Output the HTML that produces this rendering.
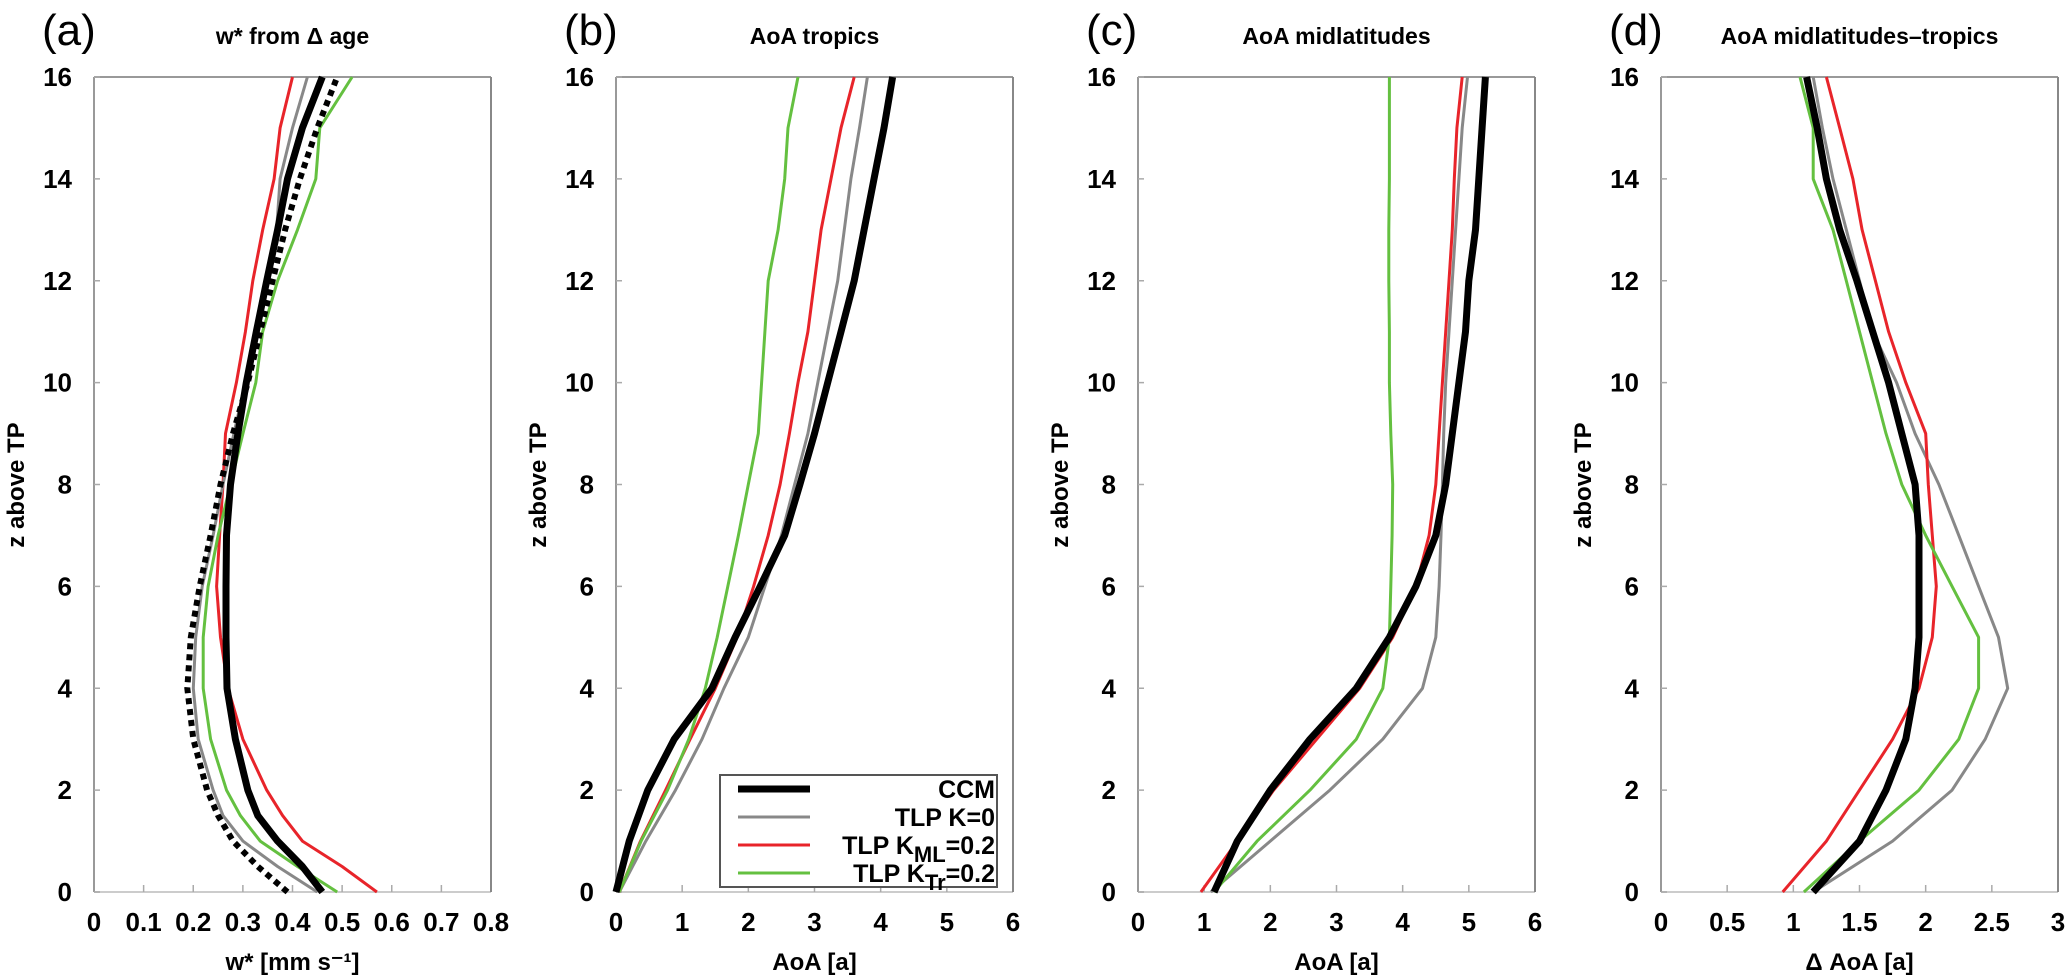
<!DOCTYPE html>
<html><head><meta charset="utf-8"><style>
html,body{margin:0;padding:0;background:#fff}
svg{display:block}
text{font-family:"Liberation Sans",sans-serif}
</style></head><body>
<svg id="fig" width="2067" height="979" viewBox="0 0 2067 979" xmlns="http://www.w3.org/2000/svg"></svg>
<script>
const zLevels=[0,1,2,3,4,5,6,7,8,9,10,11,12,13,14,15,16];
// panel a: w*
const aZ=[0,0.5,1,1.5,2,3,4,5,6,7,8,9,10,11,12,13,14,15,16];
const aCCM=[0.46,0.42,0.37,0.33,0.31,0.285,0.268,0.266,0.266,0.267,0.275,0.29,0.307,0.327,0.348,0.37,0.39,0.42,0.46];
const aDashed=[0.39,0.33,0.28,0.25,0.228,0.2,0.188,0.195,0.213,0.235,0.255,0.28,0.31,0.335,0.36,0.385,0.415,0.45,0.49];
const aK0=[0.45,0.37,0.30,0.26,0.24,0.21,0.2,0.205,0.218,0.24,0.26,0.282,0.305,0.33,0.35,0.368,0.375,0.4,0.43];
const aKML=[0.57,0.5,0.42,0.38,0.348,0.30,0.27,0.255,0.247,0.253,0.26,0.265,0.287,0.305,0.32,0.34,0.363,0.375,0.40];
const aKTr=[0.49,0.41,0.335,0.295,0.267,0.235,0.22,0.22,0.23,0.25,0.275,0.3,0.326,0.34,0.37,0.41,0.447,0.455,0.52];
// panel b: AoA tropics
const bCCM=[0,0.2,0.48,0.88,1.45,1.8,2.18,2.55,2.78,3.0,3.2,3.4,3.6,3.75,3.9,4.05,4.18];
const bK0=[0.05,0.45,0.9,1.3,1.63,2.0,2.25,2.5,2.7,2.9,3.05,3.2,3.35,3.45,3.55,3.68,3.8];
const bKML=[0.05,0.37,0.75,1.12,1.5,1.83,2.08,2.3,2.48,2.62,2.75,2.9,3.0,3.1,3.25,3.4,3.6];
const bKTr=[0.05,0.38,0.78,1.1,1.35,1.53,1.69,1.85,2.0,2.15,2.2,2.25,2.3,2.45,2.55,2.6,2.75];
// panel c: AoA midlatitudes
const cCCM=[1.15,1.5,2.0,2.6,3.3,3.8,4.2,4.5,4.65,4.75,4.85,4.95,5.0,5.1,5.15,5.2,5.25];
const cK0=[1.1,2.0,2.9,3.7,4.3,4.5,4.55,4.58,4.6,4.62,4.65,4.7,4.75,4.8,4.85,4.9,4.98];
const cKML=[0.95,1.5,2.05,2.7,3.35,3.85,4.2,4.4,4.5,4.55,4.6,4.65,4.7,4.75,4.78,4.82,4.9];
const cKTr=[1.15,1.8,2.6,3.3,3.7,3.8,3.82,3.84,3.85,3.82,3.8,3.8,3.79,3.79,3.8,3.8,3.8];
// panel d: delta AoA
const dCCM=[1.15,1.5,1.7,1.85,1.92,1.95,1.95,1.95,1.92,1.82,1.72,1.6,1.48,1.35,1.25,1.18,1.1];
const dK0=[1.15,1.75,2.2,2.45,2.62,2.55,2.4,2.25,2.1,1.92,1.78,1.6,1.5,1.4,1.3,1.22,1.15];
const dKML=[0.92,1.25,1.5,1.75,1.95,2.05,2.08,2.05,2.02,2.0,1.85,1.72,1.62,1.52,1.45,1.35,1.25];
const dKTr=[1.08,1.5,1.95,2.25,2.4,2.4,2.2,2.0,1.82,1.7,1.6,1.5,1.4,1.3,1.15,1.15,1.05];
const yTicks=[0,2,4,6,8,10,12,14,16];
const aTicks=["0","0.1","0.2","0.3","0.4","0.5","0.6","0.7","0.8"];
const bTicks=["0","1","2","3","4","5","6"];
const dTicks=["0","0.5","1","1.5","2","2.5","3"];

const NS="http://www.w3.org/2000/svg";
const svg=document.getElementById('fig');
function mk(tag,attrs,parent){const e=document.createElementNS(NS,tag);for(const k in attrs)e.setAttribute(k,attrs[k]);(parent||svg).appendChild(e);return e;}
const TOP=77,BOT=892,W=397;
const panels=[
 {id:'a',x0:94,xmax:0.8,ticks:aTicks,title:'w* from \u0394 age',xlabel:'w* [mm s\u207B\u00B9]',z:aZ,series:[[aKML,'#e8242a',3,null],[aK0,'#888',3,null],[aKTr,'#64c040',3,null],[aDashed,'#000',6,'6 5'],[aCCM,'#000',7,null]]},
 {id:'b',x0:616,xmax:6,ticks:bTicks,title:'AoA  tropics',xlabel:'AoA [a]',z:zLevels,series:[[bK0,'#888',3,null],[bKML,'#e8242a',3,null],[bKTr,'#64c040',3,null],[bCCM,'#000',7,null]]},
 {id:'c',x0:1138,xmax:6,ticks:bTicks,title:'AoA  midlatitudes',xlabel:'AoA [a]',z:zLevels,series:[[cK0,'#888',3,null],[cKML,'#e8242a',3,null],[cKTr,'#64c040',3,null],[cCCM,'#000',7,null]]},
 {id:'d',x0:1661,xmax:3,ticks:dTicks,title:'AoA  midlatitudes\u2013tropics',xlabel:'\u0394 AoA [a]',z:zLevels,series:[[dK0,'#888',3,null],[dKML,'#e8242a',3,null],[dKTr,'#64c040',3,null],[dCCM,'#000',7,null]]}
];
const seriesNames=['series-a','series-b','series-c','series-d','series-e'];
panels.forEach(p=>{
  const g=mk('g',{});
  
  
  const xs=v=>p.x0+v/p.xmax*W;
  const ys=z=>BOT-z/16*(BOT-TOP);
  // axes
  const top=mk('line',{x1:p.x0,y1:TOP,x2:p.x0+W,y2:TOP,stroke:'#999','stroke-width':2},g);
  
  const bot=mk('line',{x1:p.x0,y1:BOT,x2:p.x0+W,y2:BOT,stroke:'#ccc','stroke-width':2},g);
  
  const l=mk('line',{x1:p.x0,y1:TOP,x2:p.x0,y2:BOT,stroke:'#999','stroke-width':2},g);
  
  const r=mk('line',{x1:p.x0+W,y1:TOP,x2:p.x0+W,y2:BOT,stroke:'#888','stroke-width':2},g);
  
  // y ticks
  yTicks.forEach(t=>{
    mk('line',{x1:p.x0,y1:ys(t),x2:p.x0+6,y2:ys(t),stroke:'#aaa','stroke-width':1.5},g);
    const tx=mk('text',{x:p.x0-22,y:ys(t)+9,'text-anchor':'end','font-size':26,'font-weight':'bold'},g);
    tx.textContent=t;
    
  });
  // x ticks
  p.ticks.forEach((t,i)=>{
    const v=i*p.xmax/(p.ticks.length-1);
    if(i>0&&i<p.ticks.length-1) mk('line',{x1:xs(v),y1:BOT,x2:xs(v),y2:BOT-7,stroke:'#aaa','stroke-width':1.5},g);
    const tx=mk('text',{x:xs(v),y:931,'text-anchor':'middle','font-size':26,'font-weight':'bold'},g);
    tx.textContent=t;
    
  });
  // series
  p.series.forEach((s,si)=>{
    const pts=s[0].map((v,i)=>xs(v).toFixed(1)+','+ys(p.z[i]).toFixed(1)).join(' ');
    const a={points:pts,fill:'none',stroke:s[1],'stroke-width':s[2],'stroke-linejoin':'round'};
    if(s[3])a['stroke-dasharray']=s[3];
    const pl=mk('polyline',a,g);
    
    
  });
  // title, labels
  const ti=mk('text',{x:p.x0+W/2,y:44,'text-anchor':'middle','font-size':23,'font-weight':'bold'},g);
  ti.textContent=p.title;
  
  const pl=mk('text',{x:p.x0-52,y:45,'font-size':44},g);
  pl.textContent='('+p.id+')';
  
  const xl=mk('text',{x:p.x0+W/2,y:970,'text-anchor':'middle','font-size':24,'font-weight':'bold'},g);
  xl.textContent=p.xlabel;
  
  const yl=mk('text',{x:0,y:0,'text-anchor':'middle','font-size':24,'font-weight':'bold',transform:'translate('+(p.x0-70)+',485) rotate(-90)'},g);
  yl.textContent='z above TP';
  
});
// legend in panel b
const lg=mk('g',{});


const lb=mk('rect',{x:720,y:775,width:277,height:112,fill:'#fff',stroke:'#555','stroke-width':2},lg);
const legItems=[['CCM','#000',7],['TLP K=0','#888',3],['TLP K|ML|=0.2','#e8242a',3],['TLP K|Tr|=0.2','#64c040',3]];
legItems.forEach((it,i)=>{
  const y=789+i*28;
  const e=mk('g',{},lg);
  
  
  mk('line',{x1:738,y1:y,x2:810,y2:y,stroke:it[1],'stroke-width':it[2]},e);
  const t=mk('text',{x:995,y:y+9,'text-anchor':'end','font-size':25,'font-weight':'bold'},e);
  const parts=it[0].split('|');
  if(parts.length===1){t.textContent=parts[0];}
  else{
    const s1=mk('tspan',{},t);s1.textContent=parts[0];
    const s2=mk('tspan',{dy:8,'font-size':22},t);s2.textContent=parts[1];
    const s3=mk('tspan',{dy:-8},t);s3.textContent=parts[2];
  }
});
</script>
</body></html>
